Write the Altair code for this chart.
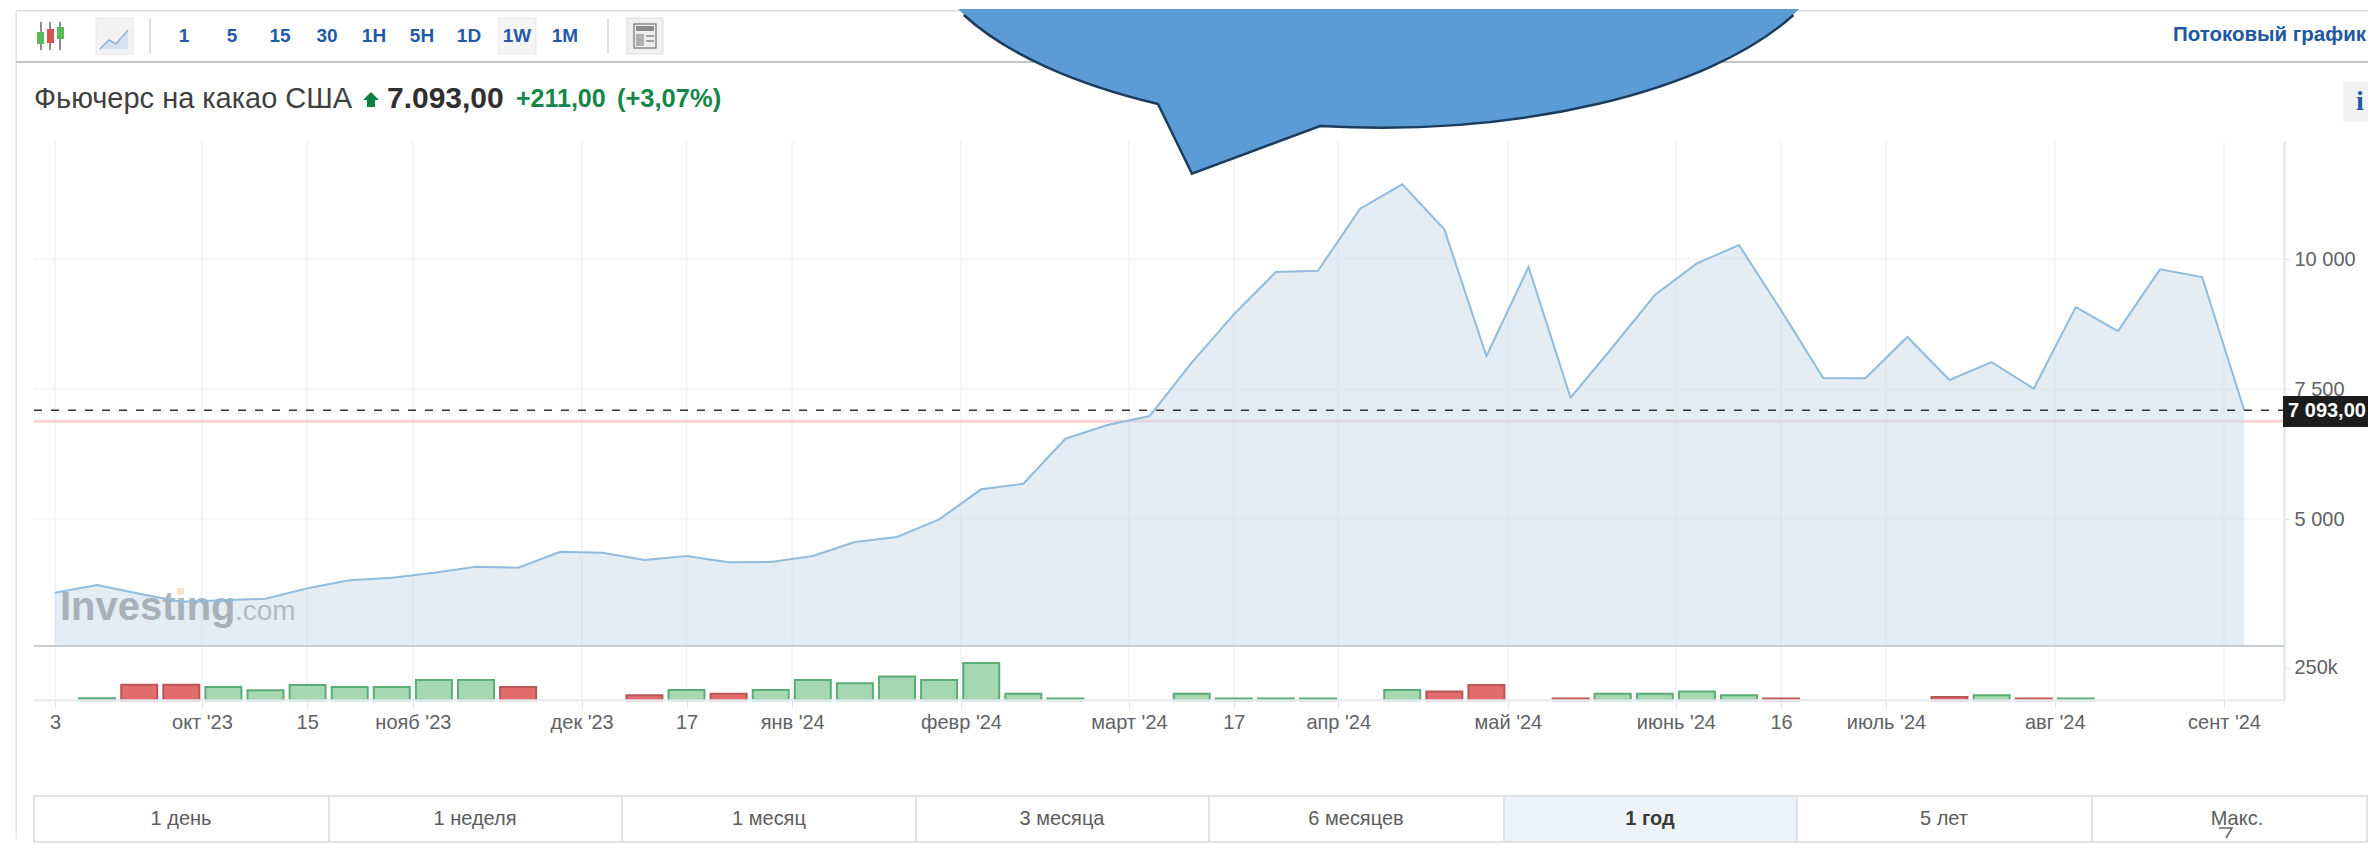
import json
import altair as alt
import pandas as pd

# ---------- data ----------
week = list(range(53))
price = [3583, 3731, 3563, 3410, 3437, 3467, 3667, 3821, 3871, 3967, 4083, 4063, 4371, 4352,
         4212, 4288, 4167, 4173, 4288, 4558, 4654, 4994, 5571, 5679, 6544, 6808, 6981, 8006,
         8937, 9750, 9775, 10967, 11437, 10571, 8135, 9846, 7333, 8308, 9308, 9917, 10269,
         9013, 7712, 7706, 8500, 7673, 8019, 7506, 9077, 8615, 9802, 9654, 7093]
volume = [0, 15000, 120000, 120000, 102000, 77000, 117000, 102000, 102000, 156000, 156000, 102000,
          0, 0, 38000, 79000, 51000, 79000, 156000, 130000, 182000, 156000, 286000, 51000, 13000,
          0, 0, 51000, 13000, 13000, 13000, 0, 79000, 67000, 117000, 0, 13000, 51000, 51000,
          67000, 38000, 13000, 0, 0, 0, 25000, 38000, 13000, 13000, 0, 0, 0, 0]
down_weeks = [2, 3, 11, 14, 16, 33, 34, 36, 41, 45, 47]
tick_weeks = [0, 3.49, 5.99, 8.5, 12.51, 15.0, 17.51, 21.52, 25.51, 28.0, 30.48, 34.51, 38.5,
              41.0, 43.49, 47.5, 51.52]
tick_labels = ["3", "окт '23", "15", "нояб '23", "дек '23", "17", "янв '24", "февр '24", "март '24",
               "17", "апр '24", "май '24", "июнь '24", "16", "июль '24", "авг '24", "сент '24"]
price_ticks = [5000, 7500, 10000]
volume_ticks = [250000]
last_price = 7093
prev_close = 6882
interval_buttons = ["1", "5", "15", "30", "1H", "5H", "1D", "1W", "1M"]
range_buttons = ["1 день", "1 неделя", "1 месяц", "3 месяца", "6 месяцев", "1 год", "5 лет", "Макс."]

FONT = "Liberation Sans"
W, H = 2276, 691.3
RIGHT = 2368
BLANK = alt.Data(values=[{}])

df = pd.DataFrame({"week": week, "price": price})
bars = pd.DataFrame({"week": week, "volume": volume})
bars["dir"] = ["down" if w in down_weeks else "up" for w in week]
bars = bars[bars.volume > 0]
ticks = pd.DataFrame({"week": tick_weeks})
hgrid = pd.DataFrame({"price": price_ticks})

xscale = alt.Scale(domain=[-1.1164, 52.945], nice=False, zero=False, padding=0)
ymain = alt.Scale(domain=[2558, 12270], range=[637, 132], nice=False, zero=False)
yvol = alt.Scale(domain=[0, 416000], range=[H, 637], nice=False, zero=False)

label_expr = f"{json.dumps(tick_labels, ensure_ascii=False)}[indexof({json.dumps(tick_weeks)}, datum.value)]"
x_axis = alt.Axis(values=tick_weeks, labelExpr=label_expr, title=None, grid=False, domain=False,
                  tickColor="#dfe3ea", tickSize=8, labelFont=FONT, labelFontSize=20, labelColor="#5f6266",
                  labelPadding=4, labelOverlap=False, labelFlush=False, labelBound=False)
X = alt.X("week:Q", scale=xscale, axis=x_axis)
y_axis = alt.Axis(orient="right", values=price_ticks, title=None, grid=False, domainColor="#dde3ec",
                  domainWidth=2, tickColor="#dde3ec", tickSize=6, labelFont=FONT, labelFontSize=20,
                  labelColor="#5f6266", labelPadding=4,
                  labelExpr="replace(format(datum.value, ','), ',', ' ')", labelOverlap=False, labelBound=False)
v_axis = alt.Axis(orient="right", values=volume_ticks, title=None, grid=False, domainColor="#dde3ec",
                  domainWidth=2, tickColor="#dde3ec", tickSize=6, labelFont=FONT, labelFontSize=20,
                  labelColor="#5f6266", labelPadding=4, format="~s", labelOverlap=False, labelBound=False)


def px(v):
    return alt.value(v - 8)


def rect(x0, y0, x1, y1, fill, stroke=None, sw=1):
    kw = {"fill": fill}
    if stroke:
        kw.update(stroke=stroke, strokeWidth=sw)
    return alt.Chart(BLANK).mark_rect(**kw).encode(x=px(x0), x2=px(x1), y=px(y0), y2=px(y1))


def vline(x, y0, y1, color, sw=1):
    return alt.Chart(BLANK).mark_rule(color=color, strokeWidth=sw).encode(x=px(x), y=px(y0), y2=px(y1))


def text(s, x, y, size, color, weight="normal", align="center", font=FONT, opacity=1):
    return alt.Chart(BLANK).mark_text(text=s, font=font, fontSize=size, color=color, fontWeight=weight,
                                      align=align, baseline="middle", opacity=opacity).encode(x=px(x), y=px(y))


def shape(path, fill=None, stroke=None, sw=1):
    kw = {"shape": path, "size": 4, "opacity": 1, "filled": fill is not None}
    if fill:
        kw["fill"] = fill
    if stroke:
        kw.update(stroke=stroke, strokeWidth=sw)
    return alt.Chart(BLANK).mark_point(**kw).encode(x=alt.value(0), y=alt.value(0))


layers = []

# --- chart frame and grid
layers.append(alt.Chart(ticks).mark_rule(color="#f0f2f6", strokeWidth=1.5).encode(
    x=X, y=alt.value(132), y2=alt.value(H)))
layers.append(alt.Chart(hgrid).mark_rule(color="#f3f4f6", strokeWidth=1.5).encode(
    y=alt.Y("price:Q", scale=ymain, axis=y_axis), x=px(34), x2=alt.value(W)))
layers.append(alt.Chart(BLANK).mark_rule(color="#f9d3d3", strokeWidth=3).encode(
    y=alt.Y(datum=prev_close, scale=ymain, axis=None), x=px(34), x2=alt.value(W)))

# --- price series
layers.append(alt.Chart(df).mark_area(fill="#c9d9e9", opacity=0.5).encode(
    x=X, y=alt.Y("price:Q", scale=ymain, axis=None), y2=alt.Y2(datum=2558)))

# --- watermark
layers.append(text("Investing", 60, 607, 40, "#8f99a2", "bold", "left", opacity=0.7))
layers.append(text(".com", 235, 611, 28, "#a8afb6", "normal", "left", opacity=0.8))
layers.append(rect(177, 587, 184, 593, "#f8e2bf"))

layers.append(alt.Chart(df).mark_line(color="#90bcdd", strokeWidth=2).encode(
    x=X, y=alt.Y("price:Q", scale=ymain, axis=None)))

# --- volume
layers.append(alt.Chart(bars).mark_bar(size=36, strokeWidth=2).encode(
    x=X, y=alt.Y("volume:Q", scale=yvol, axis=v_axis), y2=alt.Y2(datum=0),
    fill=alt.Fill("dir:N", legend=None, scale=alt.Scale(domain=["up", "down"], range=["#a6d7b3", "#e26b6b"])),
    stroke=alt.Stroke("dir:N", legend=None, scale=alt.Scale(domain=["up", "down"], range=["#5aad74", "#b95757"]))))
layers.append(alt.Chart(BLANK).mark_rule(color="#c9cdd1", strokeWidth=2).encode(x=px(34), x2=alt.value(W), y=px(645)))
layers.append(alt.Chart(BLANK).mark_rule(color="#e6e9f0", strokeWidth=2).encode(x=px(34), x2=alt.value(W), y=alt.value(H)))

# --- last price line and badge
layers.append(alt.Chart(BLANK).mark_rule(color="#333333", strokeWidth=1.5, strokeDash=[8, 9]).encode(
    y=alt.Y(datum=last_price, scale=ymain, axis=None), x=px(34), x2=alt.value(W)))
layers.append(rect(2283, 395, RIGHT, 426, "#1c1c1c"))
layers.append(text("7 093,00", 2327, 410, 20, "#ffffff", "bold"))

# --- toolbar
layers.append(rect(16, 9, RIGHT, 10.5, "#dedede"))
layers.append(rect(15.5, 10, 17, 838, "#e2e2e2"))
layers.append(rect(16, 60, RIGHT, 62, "#c4c4c4"))
layers.append(vline(41, 21, 49, "#666666", 1.5))
layers.append(vline(50, 21, 49, "#666666", 1.5))
layers.append(vline(60, 21, 49, "#666666", 1.5))
layers.append(rect(37, 31, 44, 43, "#5cb85c"))
layers.append(rect(47, 28, 54, 42, "#d9534f"))
layers.append(rect(57, 26, 64, 38, "#5cb85c"))
layers.append(rect(96, 17, 133, 53, "#f3f3f3", "#e6e6e6"))
layers.append(shape("M 92 42 L 101 32 L 108 36 L 120 21 L 120 40 L 92 40 Z", fill="#d5e2f0"))
layers.append(shape("M 92 40 L 101 31 L 108 35 L 120 21", stroke="#8fb4d9", sw=1.5))
layers.append(vline(150, 17, 53, "#d6d6d6", 1.5))
for label, cx in zip(interval_buttons, [184, 232, 280, 327, 374, 422, 469, 517, 565]):
    if label == "1W":
        layers.append(rect(499, 17, 536, 53, "#f5f5f5", "#e6e6e6"))
    layers.append(text(label, cx, 35, 19, "#1f5ba8", "bold"))
layers.append(vline(608, 17, 53, "#d6d6d6", 1.5))
layers.append(rect(627, 17, 663, 53, "#f0f0f0", "#dddddd"))
layers.append(rect(634, 23, 656, 47, "#eeeeee", "#8a8a8a", 1.5))
layers.append(rect(636, 25, 654, 30, "#8a8a8a"))
layers.append(rect(636, 33, 644, 45, "#b0b0b0"))
layers.append(rect(646, 34, 654, 36, "#a0a0a0"))
layers.append(rect(646, 39, 654, 41, "#a0a0a0"))
layers.append(text("Потоковый график", 2366, 34, 20.5, "#20589f", "bold", "right"))

# --- instrument header
layers.append(text("Фьючерс на какао США", 34, 98, 29, "#3f3f3f", "normal", "left"))
layers.append(shape("M 355 91 L 363 83 L 371 91 L 367 91 L 367 98 L 359 98 L 359 91 Z", fill="#0b8043"))
layers.append(text("7.093,00", 387, 98, 30, "#2f2f2f", "bold", "left"))
layers.append(text("+211,00", 516, 98, 25, "#15864a", "bold", "left"))
layers.append(text("(+3,07%)", 617, 98, 25.5, "#15864a", "bold", "left"))
layers.append(rect(2343, 81, RIGHT, 121, "#f2f2f2"))
layers.append(text("i", 2360, 101, 28, "#1f5ba8", "bold", font="Liberation Serif"))

# --- range buttons
edges = [34, 329, 622, 916, 1209, 1504, 1797, 2092, RIGHT - 1]
centers = [181, 475, 769, 1062, 1356, 1650, 1944, 2237]
for i, label in enumerate(range_buttons):
    active = label == "1 год"
    layers.append(rect(edges[i], 795, edges[i + 1], 841, "#edf3f9" if active else "#ffffff", "#e2e2e2", 2))
    layers.append(text(label, centers[i], 818, 20, "#3a3a3a" if active else "#5c5c5c",
                       "bold" if active else "normal"))
layers.append(shape("M 2211 819 L 2224 819 L 2218 829", stroke="#666666", sw=1.5))

# --- speech bubble laid over the chart
layers.append(shape("M 950 0 A 458 197.5 0 0 0 1150 95 L 1184 164.7 L 1312 117 A 458 197.5 0 0 0 1791 0 Z",
                    fill="#5b9bd6"))
layers.append(shape("M 955.8 6 A 458 197.5 0 0 0 1150 95 L 1184 164.7 L 1312 117 A 458 197.5 0 0 0 1785.4 6",
                    stroke="#1c3c5e", sw=2.5))

chart = alt.layer(*layers).resolve_scale(y="independent").properties(
    width=W, height=H, padding=0, background="#ffffff"
).configure_view(stroke=None)

chart.save("out.html", embed_options={"renderer": "svg", "actions": False})
